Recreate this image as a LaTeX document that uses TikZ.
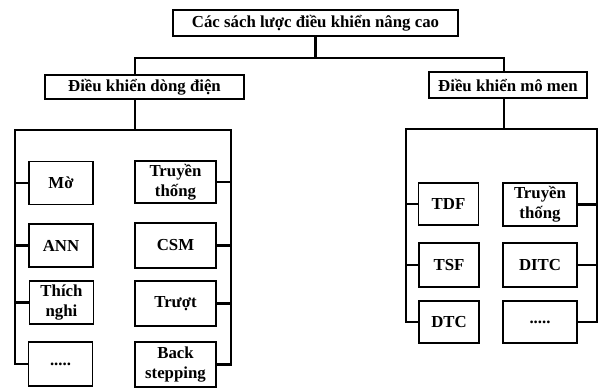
\documentclass[tikz,border=0pt]{standalone}
\usepackage{fontspec}
\setmainfont{Liberation Serif}
\begin{document}
\begin{tikzpicture}[x=1pt,y=-1pt,
  box/.style={draw,line width=1.6pt,inner sep=0pt,align=center,
    font=\fontsize{16.8}{20}\selectfont\bfseries},
  conn/.style={line width=2.6pt}]
\useasboundingbox (0,0) rectangle (601,388);
% top level
\node[box,minimum width=285,minimum height=26] (top) at (315.5,23) {Các sách lược điều khiển nâng cao};
\node[box,minimum width=199,minimum height=24] (L) at (144.5,87) {Điều khiển dòng điện};
\node[box,minimum width=158,minimum height=26] (R) at (508,85) {Điều khiển mô men};
\coordinate (lx) at (135,58);
\coordinate (rx) at (504,58);
\draw[conn] (top.south) -- (top.south |- lx);
\draw[conn] (L.north -| lx) -- (lx) -- (rx) -- (R.north -| rx);
% left group
\node[box,minimum width=64,minimum height=43] (m1) at (61,183) {Mờ};
\node[box,minimum width=64,minimum height=43] (m2) at (61,245.5) {ANN};
\node[box,minimum width=64,minimum height=43] (m3) at (61.5,302.5) {Thích\\nghi};
\node[box,minimum width=64,minimum height=44] (m4) at (60.5,364) {.....};
\node[box,minimum width=81,minimum height=42] (n1) at (175.5,182) {Truyền\\thống};
\node[box,minimum width=81,minimum height=45] (n2) at (175.5,245.5) {CSM};
\node[box,minimum width=81,minimum height=45] (n3) at (175.5,303.5) {Trượt};
\node[box,minimum width=81,minimum height=45] (n4) at (175.5,364.5) {Back\\stepping};
\coordinate (la) at (15,130);
\coordinate (lb) at (231,130);
\draw[conn] (L.south -| lx) -- (lx |- la);
\draw[conn] (m4.west) -| (la) -- (lb) |- (n4.east);
\draw[conn] (m1.west) -- (m1.west -| la);
\draw[conn] (m2.west) -- (m2.west -| la);
\draw[conn] (m3.west) -- (m3.west -| la);
\draw[conn] (n1.east) -- (n1.east -| lb);
\draw[conn] (n2.east) -- (n2.east -| lb);
\draw[conn] (n3.east) -- (n3.east -| lb);
% right group
\node[box,minimum width=60,minimum height=42] (p1) at (448.5,204) {TDF};
\node[box,minimum width=60,minimum height=44] (p2) at (449,265) {TSF};
\node[box,minimum width=60,minimum height=42] (p3) at (449,322) {DTC};
\node[box,minimum width=74,minimum height=43] (q1) at (540,204.5) {Truyền\\thống};
\node[box,minimum width=74,minimum height=44] (q2) at (540,265) {DITC};
\node[box,minimum width=74,minimum height=42] (q3) at (540,322) {.....};
\coordinate (ra) at (406,129);
\coordinate (rb) at (597,129);
\draw[conn] (R.south -| rx) -- (rx |- ra);
\draw[conn] (p3.west) -| (ra) -- (rb) |- (q3.east);
\draw[conn] (p1.west) -- (p1.west -| ra);
\draw[conn] (p2.west) -- (p2.west -| ra);
\draw[conn] (q1.east) -- (q1.east -| rb);
\draw[conn] (q2.east) -- (q2.east -| rb);
\end{tikzpicture}
\end{document}
